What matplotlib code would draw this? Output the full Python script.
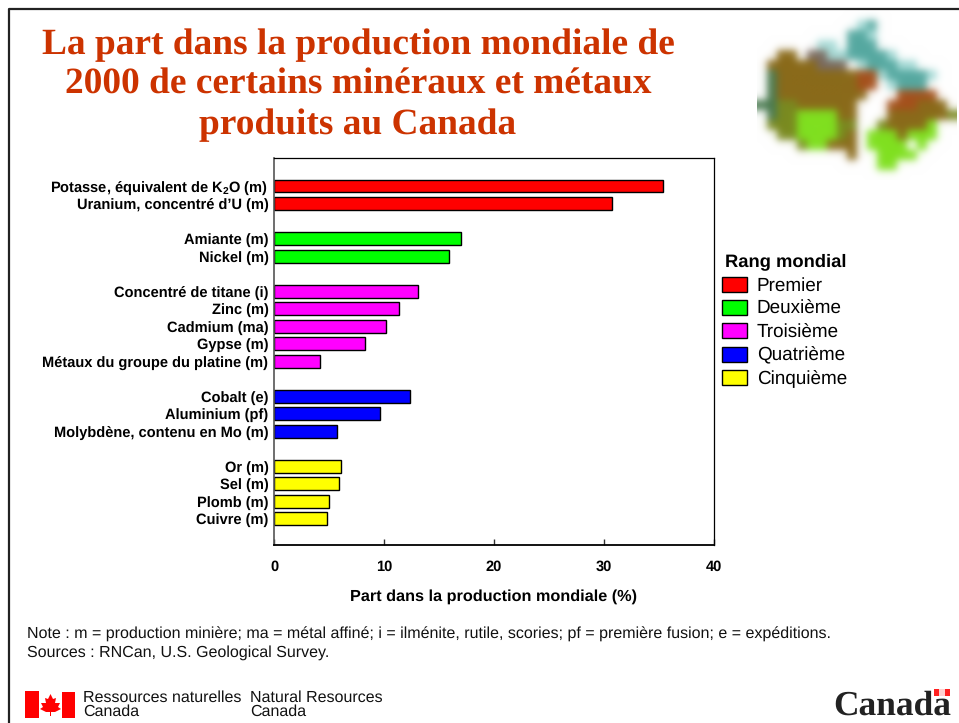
import matplotlib
matplotlib.use("Agg")
import matplotlib.pyplot as plt
from matplotlib.colors import to_rgb
from matplotlib.patches import Patch, Polygon, Rectangle
import numpy as np

plt.rcParams["font.family"] = ["Liberation Sans", "DejaVu Sans"]
plt.rcParams["mathtext.fontset"] = "custom"
plt.rcParams["mathtext.rm"] = "Liberation Sans:bold"
plt.rcParams["mathtext.default"] = "rm"
plt.rcParams["text.hinting"] = "none"

# data
labels = ["Potasse, équivalent de K$_2$O (m)", "Uranium, concentré d’U (m)",
          "Amiante (m)", "Nickel (m)",
          "Concentré de titane (i)", "Zinc (m)", "Cadmium (ma)", "Gypse (m)",
          "Métaux du groupe du platine (m)",
          "Cobalt (e)", "Aluminium (pf)", "Molybdène, contenu en Mo (m)",
          "Or (m)", "Sel (m)", "Plomb (m)", "Cuivre (m)"]
values = [35.4, 30.7, 17.0, 15.9, 13.1, 11.4, 10.2, 8.3, 4.2, 12.4, 9.6, 5.7, 6.1, 5.9, 5.0, 4.8]
rows = [0, 1, 3, 4, 6, 7, 8, 9, 10, 12, 13, 14, 16, 17, 18, 19]
ranks = [0, 0, 1, 1, 2, 2, 2, 2, 2, 3, 3, 3, 4, 4, 4, 4]
rank_names = ["Premier", "Deuxième", "Troisième", "Quatrième", "Cinquième"]
rank_colors = ["#FF0000", "#00FF00", "#FF00FF", "#0000FF", "#FFFF00"]
x_ticks = [0, 10, 20, 30, 40]

# the blurry map of Canada, as a coarse colour grid
map_grid = ["....................",
            "..........lt........",
            ".........ttl........",
            "......ll.ttt........",
            "..bb.kkllttttl......",
            ".bbbbbkkk.ltttll....",
            ".dbbbbbbbbrrlttttl..",
            ".dbbbbbbbbrr.lttt...",
            ".dbbbbbbbbb...rrrr..",
            "ddoobbbbbb...rrrbbb.",
            ".dooggggbb...bbbbbbo",
            ".oooggggoo..obbbbg..",
            "..ooggggob.gggbggg..",
            "....oggbbb.gggg.g...",
            ".........b..gggg....",
            "............gg......",
            "...................."]
map_colors = {".": "#FFFFFF", "b": "#8A6A1A", "r": "#A5501C", "g": "#80E020", "o": "#7A8A20",
              "t": "#55A8A0", "l": "#A8DCD8", "d": "#4A7A50", "k": "#7A6A60"}

W, H = 959, 723
fig = plt.figure(figsize=(W / 100, H / 100), dpi=100)

# overlay in pixel coordinates for the frame and the logos
bg = fig.add_axes([0, 0, 1, 1])
map_img = np.array([[to_rgb(map_colors[c]) for c in row] for row in map_grid])
bg.imshow(map_img, extent=(757, 957, 180, 10), interpolation="gaussian", aspect="auto")
bg.set_xlim(0, W)
bg.set_ylim(H, 0)
bg.axis("off")
bg.plot([8.5, 8.5, W], [H, 8.5, 8.5], color="#222222", lw=1.6)

# bar chart
ax = fig.add_axes([274 / W, 1 - 545 / H, 440 / W, 387 / H])
ax.barh(rows, values, height=0.74, color=[rank_colors[r] for r in ranks],
        edgecolor="black", linewidth=1.0)
ax.set_xlim(0, 40)
ax.set_ylim(20.5, -1.6)
ax.set_yticks(rows)
ax.set_yticklabels(labels, fontsize=10.5, fontweight="bold")
ax.tick_params(axis="y", length=0, pad=4)
ax.set_xticks(x_ticks)
ax.set_xticklabels(x_ticks, fontsize=10.5, fontweight="bold")
ax.tick_params(axis="x", length=4, width=1, direction="in", color="#333333", pad=11)
ax.set_xlabel("Part dans la production mondiale (%)", fontsize=11.7, fontweight="bold", labelpad=11)
for s in ax.spines.values():
    s.set_linewidth(0.9)
ax.spines["left"].set_color("#555555")
ax.spines["left"].set_linewidth(1.2)
ax.spines["bottom"].set_linewidth(1.3)

# legend
handles = [Patch(facecolor=c, edgecolor="black", linewidth=1.0) for c in rank_colors]
leg = fig.legend(handles, rank_names, loc="upper left", bbox_to_anchor=(720 / W, 1 - 251 / H),
                 frameon=False, fontsize=13.6, title="Rang mondial",
                 title_fontproperties={"weight": "bold", "size": 13.2},
                 handlelength=1.35, handleheight=0.85, handletextpad=0.5, labelspacing=0.28,
                 borderaxespad=0, borderpad=0.1)
leg._legend_box.align = "left"
leg._legend_box.sep = 5
leg.get_title().set_position((3, 0))

# title
bg.text(358, 85, "La part dans la production mondiale de\n2000 de certains minéraux et métaux\nproduits au Canada",
        ha="center", va="center", family="Liberation Serif", fontweight="bold",
        fontsize=26.9, color="#CC3300", linespacing=1.25)

# notes
bg.text(27, 634, "Note : m = production minière; ma = métal affiné; i = ilménite, rutile, scories; pf = première fusion; e = expéditions.",
        fontsize=11.5, va="center", color="#111111")
bg.text(27, 653, "Sources : RNCan, U.S. Geological Survey.", fontsize=11.5, va="center", color="#111111")

# signature
bg.add_patch(Rectangle((25, 691), 14, 27, color="#FF0000", lw=0))
bg.add_patch(Rectangle((62, 692), 13, 26, color="#FF0000", lw=0))
leaf = [(50.5, 694), (53, 699), (56, 698), (55, 703), (60, 703), (58, 707), (61, 709), (55, 712),
        (51, 712), (51, 716), (50, 716), (50, 712), (46, 712), (40, 709), (43, 707), (41, 703),
        (46, 703), (45, 698), (48, 699)]
bg.add_patch(Polygon(leaf, color="#FF0000", lw=0))
for x, a, b in [(83, "Ressources naturelles", "Canada"), (250.5, "Natural Resources", "Canada")]:
    bg.text(x, 697.5, a, fontsize=11.5, va="center", color="#111111")
    bg.text(x, 712, b, fontsize=11.5, va="center", color="#111111")
bg.text(951, 706, "Canada", family="Liberation Serif", fontsize=25.5, fontweight="bold",
        ha="right", va="center", color="#222222")
bg.add_patch(Rectangle((934, 689), 16, 7, color="#FF2020", lw=0))
bg.add_patch(Rectangle((939, 689), 6, 7, color="#FFD0D0", lw=0))

fig.savefig("out.png", dpi=100)
